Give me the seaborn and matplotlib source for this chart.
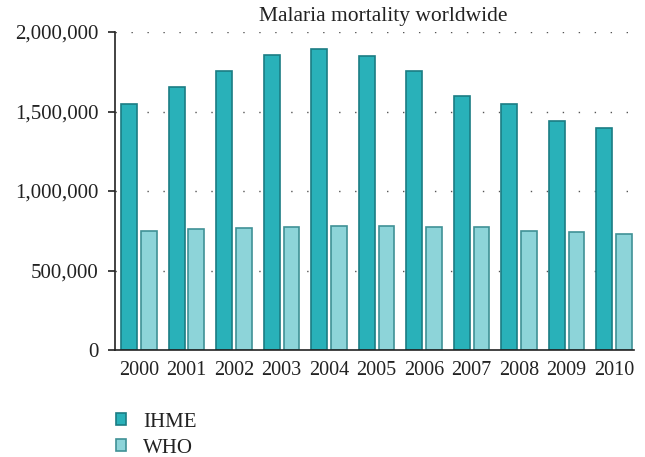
import matplotlib
matplotlib.use("Agg")
import matplotlib.pyplot as plt
from matplotlib.patches import Patch
from matplotlib.ticker import FuncFormatter
import seaborn as sns
import pandas as pd

years = ["2000", "2001", "2002", "2003", "2004", "2005", "2006", "2007", "2008", "2009", "2010"]
ihme = [1550000, 1652000, 1755000, 1853000, 1895000, 1846000, 1755000, 1597000, 1549000, 1440000, 1398000]
who = [748000, 759000, 765000, 772000, 780000, 780000, 774000, 774000, 748000, 744000, 731000]
sources = ["IHME", "WHO"]

df = pd.DataFrame({
    "year": years * 2,
    "deaths": ihme + who,
    "source": ["IHME"] * len(years) + ["WHO"] * len(years),
})

fill = {"IHME": "#29b1b9", "WHO": "#8dd4d9"}
edge = {"IHME": "#1b7d84", "WHO": "#3f9196"}

sns.set_style("white")
plt.rcParams["font.family"] = ["Liberation Serif", "DejaVu Serif"]

fig = plt.figure(figsize=(6.45, 4.57), dpi=100)
ax = fig.add_axes([115 / 645, 1 - 350 / 457, (634 - 115) / 645, (350 - 32) / 457])

sns.barplot(data=df, x="year", y="deaths", hue="source", hue_order=sources,
            palette=fill, saturation=1, width=0.84, gap=0.2, ax=ax, legend=False)

for bars, s in zip(ax.containers, sources):
    for b in bars:
        b.set_edgecolor(edge[s])
        b.set_linewidth(1.2)
        b.set_zorder(2)

ax.set_xlim(-0.505, 10.42)
ax.set_ylim(0, 2000000)
ax.set_yticks([0, 500000, 1000000, 1500000, 2000000])
ax.yaxis.set_major_formatter(FuncFormatter(lambda v, p: f"{int(v):,}"))
ax.set_xlabel("")
ax.set_ylabel("")

for v in [500000, 1000000, 1500000, 2000000]:
    ax.axhline(v, color="#555555", linewidth=1.0, linestyle=(0, (1, 10.5)), zorder=0)

for s in ["top", "right"]:
    ax.spines[s].set_visible(False)
ax.spines["left"].set_color("#222222")
ax.spines["bottom"].set_color("#222222")
ax.spines["left"].set_linewidth(1.2)
ax.spines["bottom"].set_linewidth(1.2)

ax.tick_params(axis="y", length=5, width=1.2, color="#222222", labelsize=15, pad=7, left=True)
ax.tick_params(axis="x", length=0, labelsize=14.5, pad=8)
for lab in ax.get_xticklabels() + ax.get_yticklabels():
    lab.set_color("#222222")

fig.text(383 / 645, 1 - 17 / 457, "Malaria mortality worldwide", ha="center", va="center",
         fontsize=15.5, color="#222222")

handles = [Patch(facecolor=fill[s], edgecolor=edge[s], linewidth=1.2, label=s) for s in sources]
fig.legend(handles=handles, loc="upper left", bbox_to_anchor=(97 / 645, 1 - 394 / 457),
           frameon=False, fontsize=15, handlelength=0.5, handleheight=0.5,
           handletextpad=0.8, labelspacing=0.33, labelcolor="#222222")

fig.savefig("out.png", dpi=100)
